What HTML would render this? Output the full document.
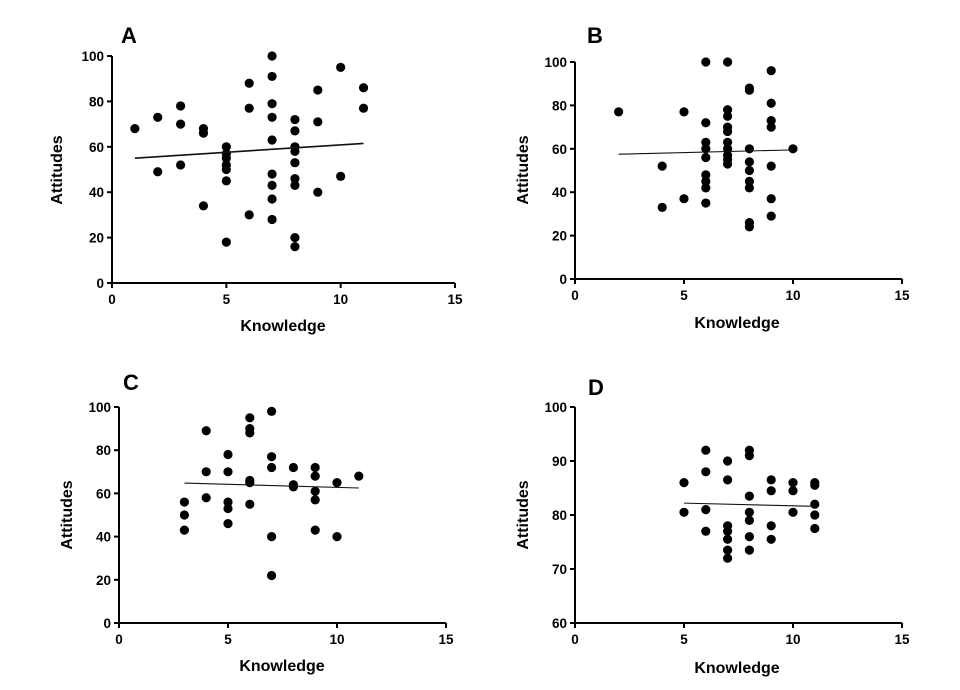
<!DOCTYPE html>
<html><head><meta charset="utf-8"><style>
html,body{margin:0;padding:0;background:#fff;}
svg{display:block;font-family:"Liberation Sans",Arial,sans-serif;}
</style></head><body>
<svg id="fig" width="960" height="690" viewBox="0 0 960 690"></svg>
<script>
const xTicks = [0, 5, 10, 15];
const yTicksAC = [0, 20, 40, 60, 80, 100];
const yTicksD = [60, 70, 80, 90, 100];
const panelLabels = ["A", "B", "C", "D"];

const aX = [1,2,2,3,3,3,4,4,4,5,5,5,5,5,5,5,6,6,6,7,7,7,7,7,7,7,7,7,8,8,8,8,8,8,8,8,8,9,9,9,10,10,11,11];
const aY = [68,73,49,78,70,52,68,66,34,60,57,55,52,50,45,18,88,77,30,100,91,79,73,63,48,43,37,28,72,67,60,58,53,46,43,20,16,85,71,40,95,47,86,77];
const aFit = [[1,55],[11,61.5]];

const bX = [2,4,4,5,5,6,6,6,6,6,6,6,6,6,7,7,7,7,7,7,7,7,7,7,8,8,8,8,8,8,8,8,8,9,9,9,9,9,9,9,10];
const bY = [77,52,33,77,37,100,72,63,60,56,48,45,42,35,100,78,75,70,68,63,60,57,55,53,88,87,60,54,50,45,42,26,24,96,81,73,70,52,37,29,60];
const bFit = [[2,57.5],[10,59.5]];

const cX = [3,3,3,4,4,4,5,5,5,5,5,6,6,6,6,6,6,7,7,7,7,7,8,8,8,9,9,9,9,9,10,10,11];
const cY = [56,50,43,89,70,58,78,70,56,53,46,95,90,88,66,65,55,98,77,72,40,22,72,64,63,72,68,61,57,43,65,40,68];
const cFit = [[3,64.8],[11,62.5]];

const dX = [5,5,6,6,6,6,7,7,7,7,7,7,7,8,8,8,8,8,8,8,9,9,9,9,10,10,10,11,11,11,11,11];
const dY = [86,80.5,92,88,81,77,90,86.5,78,77,75.5,73.5,72,92,91,83.5,80.5,79,76,73.5,86.5,84.5,78,75.5,86,84.5,80.5,86,85.5,82,80,77.5];
const dFit = [[5,82.2],[11,81.6]];

const NS = "http://www.w3.org/2000/svg";
const svg = document.getElementById("fig");
function mk(tag, attrs, parent){
  const e = document.createElementNS(NS, tag);
  for (const k in attrs) e.setAttribute(k, attrs[k]);
  (parent||svg).appendChild(e);
  return e;
}
const panels = [
  {id:"a", X:aX, Y:aY, fit:aFit, yt:yTicksAC, ymin:0, ymax:100, x0:112, x1:455, y0:283, y1:56, lab:[121,43], yt2:[57,170], xt:[283,331], lw:1.6},
  {id:"b", X:bX, Y:bY, fit:bFit, yt:yTicksAC, ymin:0, ymax:100, x0:575, x1:902, y0:279, y1:62, lab:[587,43], yt2:[523,170], xt:[737,328], lw:1.1},
  {id:"c", X:cX, Y:cY, fit:cFit, yt:yTicksAC, ymin:0, ymax:100, x0:119, x1:446, y0:623, y1:407, lab:[123,390], yt2:[67,515], xt:[282,671], lw:1.1},
  {id:"d", X:dX, Y:dY, fit:dFit, yt:yTicksD, ymin:60, ymax:100, x0:575, x1:902, y0:623, y1:407, lab:[588,395], yt2:[523,515], xt:[737,673], lw:1.1}
];
panels.forEach((p, i) => {
  const g = mk("g", {});
  
  
  const sx = v => p.x0 + (v - 0) / 15 * (p.x1 - p.x0);
  const sy = v => p.y0 - (v - p.ymin) / (p.ymax - p.ymin) * (p.y0 - p.y1);
  const lab = mk("text", {x:p.lab[0], y:p.lab[1], "font-size":22, "font-weight":"bold"}, g);
  lab.textContent = panelLabels[i];
  
  
  const ax = mk("path", {d:`M${p.x0},${p.y1}V${p.y0}H${p.x1}`, stroke:"#000", "stroke-width":2, fill:"none"}, g);
  
  
  xTicks.forEach(t => {
    const x = sx(t);
    mk("line", {x1:x, x2:x, y1:p.y0, y2:p.y0+5, stroke:"#000", "stroke-width":2}, g);
    const tx = mk("text", {x:x, y:p.y0+21, "font-size":13.5, "font-weight":"bold", "text-anchor":"middle"}, g);
    tx.textContent = t;
    
    
  });
  p.yt.forEach(t => {
    const y = sy(t);
    mk("line", {x1:p.x0-5, x2:p.x0, y1:y, y2:y, stroke:"#000", "stroke-width":2}, g);
    const tx = mk("text", {x:p.x0-8, y:y+5, "font-size":13.5, "font-weight":"bold", "text-anchor":"end"}, g);
    tx.textContent = t;
    
    
  });
  const xt = mk("text", {x:p.xt[0], y:p.xt[1], "font-size":16, "font-weight":"bold", "text-anchor":"middle"}, g);
  xt.textContent = "Knowledge";
  
  
  const yt = mk("text", {x:0, y:0, "font-size":16, "font-weight":"bold", "text-anchor":"middle", transform:`translate(${p.yt2[0]+5},${p.yt2[1]}) rotate(-90)`}, g);
  yt.textContent = "Attitudes";
  
  
  p.X.forEach((xv, k) => {
    const c = mk("circle", {cx:sx(xv), cy:sy(p.Y[k]), r:4.6, fill:"#000"}, g);
    
    
  });
  const fl = mk("line", {x1:sx(p.fit[0][0]), y1:sy(p.fit[0][1]), x2:sx(p.fit[1][0]), y2:sy(p.fit[1][1]), stroke:"#111", "stroke-width":p.lw}, g);
  
  
});
</script>
</body></html>
